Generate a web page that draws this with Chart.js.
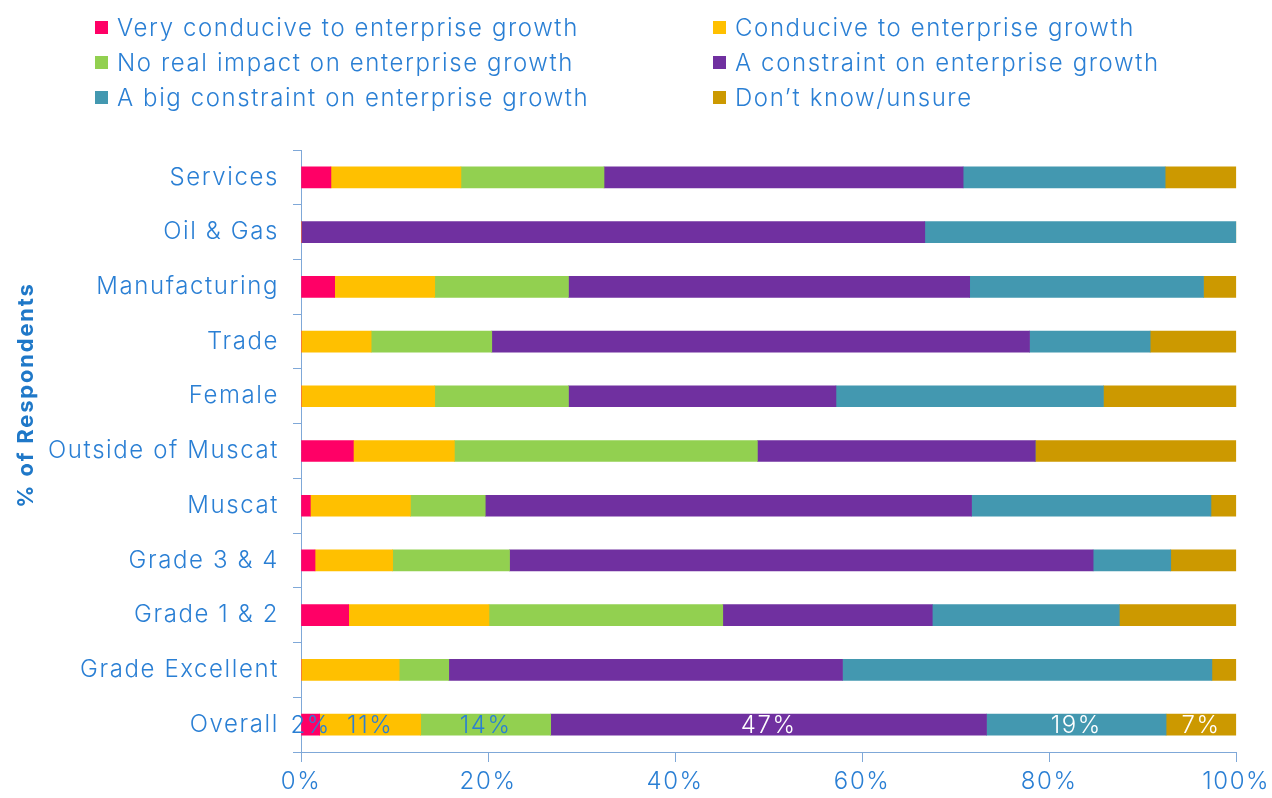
<!doctype html>
<html lang="en">
<head>
<meta charset="utf-8" />
<title>Enterprise growth</title>
<script src="https://cdn.jsdelivr.net/npm/chart.js@4"></script>
<style>
  body { margin: 0; background: #fff; font-family: Inter, "DejaVu Sans", sans-serif; }
  #wrap { position: relative; width: 1272px; height: 798px; }
  #legend { position: absolute; left: 0; top: 0; width: 1272px; height: 120px; }
  .item { position: absolute; display: flex; align-items: center; height: 30px; color: #2a7fd4; font-size: 24px; font-weight: 300; letter-spacing: 1.6px; white-space: nowrap; }
  .box { width: 13px; height: 13px; margin-right: 9px; }
</style>
</head>
<body>
<div id="wrap">
  <div id="legend"></div>
  <canvas id="c" width="1272" height="798"></canvas>
</div>
<script>
const categories = ["Services", "Oil & Gas", "Manufacturing", "Trade", "Female", "Outside of Muscat",
  "Muscat", "Grade 3 & 4", "Grade 1 & 2", "Grade Excellent", "Overall"];

const seriesNames = ["Very conducive to enterprise growth", "Conducive to enterprise growth",
  "No real impact on enterprise growth", "A constraint on enterprise growth",
  "A big constraint on enterprise growth", "Don\u2019t know/unsure"];
const seriesColors = ["#ff0066", "#ffc000", "#92d050", "#7030a0", "#4398b0", "#cc9900"];

// % of respondents, one array per answer, in category order
const veryConducive = [3.2, 0, 3.6, 0, 0, 5.6, 1.0, 1.5, 5.1, 0, 2.0];
const conducive     = [13.9, 0, 10.7, 7.5, 14.3, 10.8, 10.7, 8.3, 15.0, 10.5, 10.8];
const noImpact      = [15.3, 0, 14.3, 12.9, 14.3, 32.4, 8.0, 12.5, 25.0, 5.3, 13.9];
const constraint    = [38.4, 66.7, 42.9, 57.5, 28.6, 29.7, 52.0, 62.4, 22.4, 42.1, 46.6];
const bigConstraint = [21.6, 33.3, 25.0, 12.9, 28.6, 0, 25.6, 8.3, 20.0, 39.5, 19.2];
const dontKnow      = [7.6, 0, 3.5, 9.2, 14.3, 21.5, 2.7, 7.0, 12.5, 2.6, 7.5];

const overallLabels = ["2%", "11%", "14%", "47%", "19%", "7%"];
const overallLabelColors = ["#2a7fd4", "#2a7fd4", "#2a7fd4", "#ffffff", "#ffffff", "#ffffff"];
const xTicks = [0, 20, 40, 60, 80, 100];

const values = [veryConducive, conducive, noImpact, constraint, bigConstraint, dontKnow];
const TEXT = "#2a7fd4";
const AXIS = "#7fa8d8";
const FONT = "Inter, 'DejaVu Sans', sans-serif";
const SPACING = "1.6px";

// legend: two columns, filled row by row
const legendPos = [[95, 12], [713, 12], [95, 47], [713, 47], [95, 82], [713, 82]];
const legendEl = document.getElementById("legend");
seriesNames.forEach((name, i) => {
  const d = document.createElement("div");
  d.className = "item";
  d.style.left = legendPos[i][0] + "px";
  d.style.top = legendPos[i][1] + "px";
  d.innerHTML = '<span class="box" style="background:' + seriesColors[i] + '"></span>' + name;
  legendEl.appendChild(d);
});

// wider letter spacing for all canvas text (the original face is a wide geometric font)
const spacing = {
  id: "spacing",
  beforeDraw(chart) { chart.ctx.letterSpacing = SPACING; }
};

const overallValues = {
  id: "overallValues",
  afterDatasetsDraw(chart) {
    const ctx = chart.ctx;
    const idx = categories.length - 1;
    ctx.save();
    ctx.letterSpacing = SPACING;
    ctx.font = "300 24px " + FONT;
    ctx.textAlign = "center";
    ctx.textBaseline = "middle";
    chart.data.datasets.forEach((ds, i) => {
      const bar = chart.getDatasetMeta(i).data[idx];
      const p = bar.getCenterPoint();
      ctx.fillStyle = overallLabelColors[i];
      ctx.fillText(overallLabels[i], p.x, p.y + 1);
    });
    ctx.restore();
  }
};

const yTitle = {
  id: "yTitle",
  afterDraw(chart) {
    const ctx = chart.ctx;
    ctx.save();
    ctx.letterSpacing = "1.8px";
    ctx.translate(26, 395);
    ctx.rotate(-Math.PI / 2);
    ctx.font = "bold 22px " + FONT;
    ctx.fillStyle = "#1f78c8";
    ctx.textAlign = "center";
    ctx.textBaseline = "middle";
    ctx.fillText("% of Respondents", 0, 0);
    ctx.restore();
  }
};

new Chart(document.getElementById("c"), {
  type: "bar",
  data: {
    labels: categories,
    datasets: seriesNames.map((name, i) => ({
      label: name,
      data: values[i],
      backgroundColor: seriesColors[i],
      barThickness: 21,
    })),
  },
  options: {
    indexAxis: "y",
    responsive: false,
    animation: false,
    devicePixelRatio: 1,
    layout: { padding: { top: 150, right: 35, left: 0, bottom: 0 } },
    plugins: { legend: { display: false }, tooltip: { enabled: false } },
    scales: {
      x: {
        stacked: true,
        min: 0,
        max: 100,
        afterBuildTicks: (s) => { s.ticks = xTicks.map(v => ({ value: v })); },
        afterFit: (s) => { s.height = 46; },
        ticks: { color: TEXT, font: { family: FONT, size: 24, weight: 300 }, padding: 5, callback: v => v + "%" },
        grid: { drawOnChartArea: false, drawTicks: true, tickLength: 10, color: AXIS },
        border: { color: AXIS },
      },
      y: {
        stacked: true,
        afterFit: (s) => { s.width = 301; },
        ticks: { color: TEXT, font: { family: FONT, size: 24, weight: 300 }, padding: 14 },
        grid: { drawOnChartArea: false, drawTicks: true, tickLength: 8, offset: true, color: AXIS },
        border: { color: AXIS },
      },
    },
  },
  plugins: [spacing, overallValues, yTitle],
});
</script>
</body>
</html>
